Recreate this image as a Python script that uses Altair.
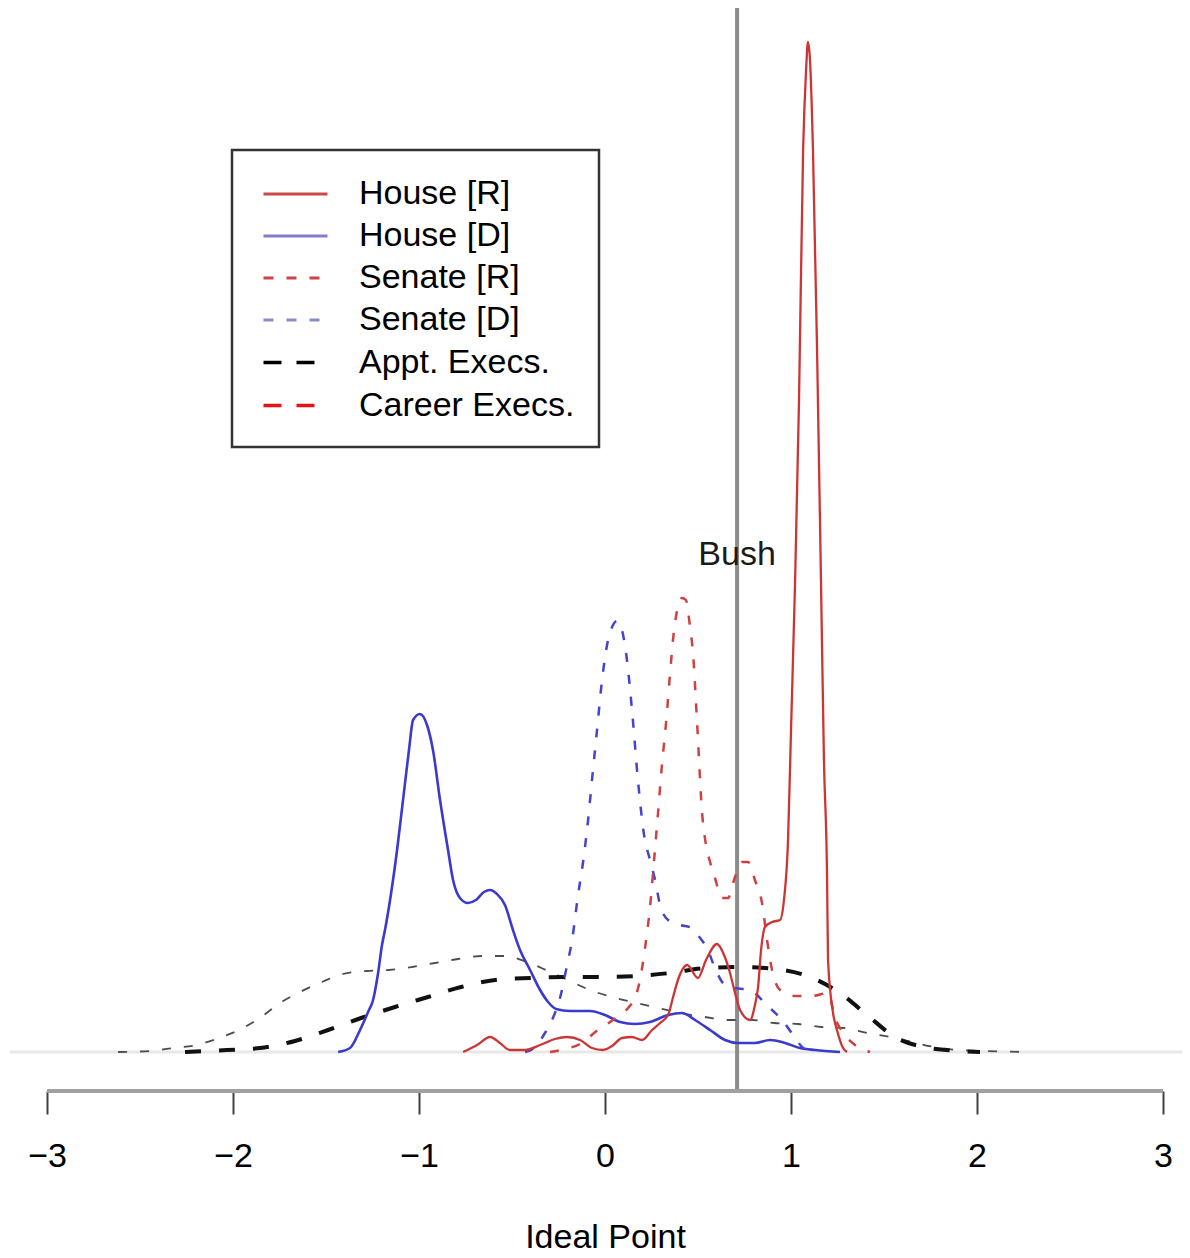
import altair as alt
import pandas as pd

FONT = "Liberation Sans"

# ---------------- data ----------------
x_ticks = [-3, -2, -1, 0, 1, 2, 3]
x_title = "Ideal Point"
bush_x = 0.71
bush_label = "Bush"
bush_label_y = 2.485

house_r_x = [-0.763, -0.688, -0.618, -0.565, -0.511, -0.430, -0.349, -0.269, -0.204, -0.134,
             -0.070, -0.011, 0.038, 0.091, 0.145, 0.199, 0.253, 0.296, 0.339, 0.366,
             0.392, 0.441, 0.500, 0.543, 0.602, 0.640, 0.672, 0.699, 0.726, 0.780,
             0.806, 0.823, 0.839, 0.860, 0.898, 0.941, 0.962, 0.984, 1.000, 1.022,
             1.043, 1.065, 1.081, 1.091, 1.102, 1.118, 1.140, 1.161, 1.177, 1.194,
             1.199, 1.226, 1.247, 1.280, 1.301]
house_r_y = [0.0, 0.035, 0.075, 0.045, 0.01, 0.01, 0.035, 0.065, 0.075, 0.06,
             0.02, 0.01, 0.03, 0.07, 0.075, 0.06, 0.11, 0.145, 0.185, 0.275,
             0.36, 0.435, 0.37, 0.46, 0.54, 0.485, 0.395, 0.295, 0.21, 0.16,
             0.235, 0.325, 0.51, 0.625, 0.65, 0.66, 0.76, 1.06, 1.61, 2.36,
             3.26, 4.51, 4.91, 5.05, 4.96, 4.51, 3.51, 2.36, 1.46, 0.86,
             0.46, 0.195, 0.11, 0.02, 0.0]

house_d_x = [-1.435, -1.371, -1.317, -1.274, -1.247, -1.220, -1.199, -1.183, -1.118, -1.086,
             -1.054, -1.032, -0.995, -0.957, -0.925, -0.887, -0.844, -0.817, -0.780, -0.737,
             -0.694, -0.651, -0.618, -0.581, -0.538, -0.495, -0.457, -0.403, -0.349, -0.306,
             -0.263, -0.188, -0.081, 0.000, 0.081, 0.161, 0.242, 0.339, 0.414, 0.484,
             0.565, 0.645, 0.715, 0.806, 0.887, 0.968, 1.048, 1.129, 1.263]
house_d_y = [0.0, 0.02, 0.11, 0.20, 0.26, 0.395, 0.535, 0.61, 1.01, 1.26,
             1.51, 1.66, 1.69, 1.635, 1.51, 1.26, 1.01, 0.86, 0.77, 0.745,
             0.76, 0.80, 0.81, 0.79, 0.735, 0.61, 0.51, 0.41, 0.31, 0.25,
             0.215, 0.205, 0.205, 0.185, 0.15, 0.14, 0.15, 0.185, 0.195, 0.16,
             0.11, 0.06, 0.045, 0.045, 0.06, 0.045, 0.02, 0.01, 0.0]

senate_r_x = [-0.296, -0.215, -0.134, -0.038, 0.027, 0.070, 0.124, 0.167, 0.188, 0.215,
              0.242, 0.263, 0.285, 0.306, 0.328, 0.349, 0.371, 0.392, 0.414, 0.435,
              0.457, 0.473, 0.495, 0.522, 0.543, 0.565, 0.591, 0.629, 0.661, 0.699,
              0.737, 0.769, 0.806, 0.844, 0.871, 0.898, 0.941, 1.022, 1.113, 1.199,
              1.237, 1.290, 1.344, 1.425]
senate_r_y = [0.0, 0.015, 0.04, 0.11, 0.15, 0.18, 0.22, 0.285, 0.36, 0.52,
              0.725, 0.95, 1.195, 1.435, 1.645, 1.885, 2.11, 2.225, 2.27, 2.26,
              2.125, 1.995, 1.645, 1.195, 1.035, 0.95, 0.87, 0.77, 0.77, 0.875,
              0.95, 0.95, 0.86, 0.745, 0.56, 0.41, 0.31, 0.28, 0.28, 0.295,
              0.17, 0.085, 0.035, 0.0]

senate_d_x = [-0.430, -0.376, -0.323, -0.280, -0.242, -0.204, -0.177, -0.145, -0.118, -0.091,
              -0.070, -0.043, -0.016, 0.011, 0.038, 0.065, 0.091, 0.118, 0.145, 0.177,
              0.210, 0.242, 0.269, 0.296, 0.339, 0.403, 0.468, 0.511, 0.548, 0.591,
              0.640, 0.699, 0.780, 0.844, 0.898, 0.952, 1.011, 1.065, 1.102]
senate_d_y = [0.0, 0.025, 0.095, 0.17, 0.27, 0.435, 0.56, 0.785, 0.95, 1.16,
              1.36, 1.61, 1.86, 2.035, 2.125, 2.155, 2.11, 1.96, 1.71, 1.36,
              1.085, 0.96, 0.86, 0.735, 0.66, 0.635, 0.62, 0.57, 0.52, 0.42,
              0.34, 0.32, 0.31, 0.26, 0.21, 0.16, 0.085, 0.02, 0.0]

appt_x = [-2.258, -2.151, -2.032, -1.855, -1.667, -1.489, -1.312, -1.129, -0.952, -0.774,
          -0.591, -0.403, -0.215, -0.027, 0.167, 0.349, 0.543, 0.726, 0.914, 1.102,
          1.263, 1.409, 1.559, 1.742, 1.909, 2.016]
appt_y = [0.0, 0.005, 0.01, 0.02, 0.055, 0.11, 0.17, 0.225, 0.275, 0.325,
          0.36, 0.37, 0.375, 0.375, 0.38, 0.395, 0.42, 0.425, 0.415, 0.375,
          0.295, 0.185, 0.075, 0.02, 0.005, 0.0]

career_x = [-2.618, -2.446, -2.323, -2.194, -2.075, -1.957, -1.849, -1.747, -1.640, -1.522,
            -1.409, -1.280, -1.161, -1.038, -0.914, -0.790, -0.661, -0.543, -0.419, -0.306,
            -0.188, -0.081, 0.038, 0.167, 0.285, 0.403, 0.538, 0.661, 0.790, 0.909,
            1.038, 1.161, 1.285, 1.409, 1.532, 1.651, 1.769, 1.898, 2.043, 2.285]
career_y = [0.0, 0.005, 0.02, 0.035, 0.07, 0.115, 0.175, 0.245, 0.30, 0.35,
            0.39, 0.405, 0.41, 0.425, 0.445, 0.465, 0.48, 0.48, 0.45, 0.405,
            0.355, 0.31, 0.275, 0.245, 0.22, 0.195, 0.175, 0.16, 0.16, 0.145,
            0.14, 0.125, 0.12, 0.095, 0.075, 0.05, 0.025, 0.01, 0.005, 0.0]

legend_labels = ["House [R]", "House [D]", "Senate [R]", "Senate [D]", "Appt. Execs.", "Career Execs."]

# ---------------- styles ----------------
legend_colors = ["#c94a4a", "#8080c8", "#cc4444", "#8a8acc", "#000000", "#e01515"]
legend_dashes = [[1, 0], [1, 0], [10, 13], [10, 13], [18, 15], [18, 15]]
legend_widths = [3, 3, 3, 3, 3.5, 3.5]

curves = [
    ("Career Execs.", career_x, career_y, dict(color="#4d4d4d", strokeDash=[9, 13], strokeWidth=1.8)),
    ("Appt. Execs.", appt_x, appt_y, dict(color="#111111", strokeDash=[16, 18], strokeWidth=4)),
    ("House [D]", house_d_x, house_d_y, dict(color="#3a3acd", strokeWidth=2.6)),
    ("Senate [D]", senate_d_x, senate_d_y, dict(color="#4444cc", strokeDash=[9, 13], strokeWidth=2.5)),
    ("Senate [R]", senate_r_x, senate_r_y, dict(color="#cf4040", strokeDash=[9, 13], strokeWidth=2.5)),
    ("House [R]", house_r_x, house_r_y, dict(color="#cd3535", strokeWidth=2.3)),
]

W, H = 1172, 1083
x_dom = [-3.199, 3.102]
y_dom = [-0.195, 5.22]
xscale = alt.Scale(domain=x_dom, nice=False, zero=False)
yscale = alt.Scale(domain=y_dom, nice=False, zero=False)
xaxis = alt.Axis(values=x_ticks, title=x_title, format="d", titleX=595)

rows = []
for name, xs, ys, _ in curves:
    for a, b in zip(xs, ys):
        rows.append({"series": name, "x": a, "y": b})
df = pd.DataFrame(rows)

one = alt.Chart(pd.DataFrame({"k": [0]}))

baseline = one.mark_rule(color="#e8e8e8", strokeWidth=3).encode(
    y=alt.YDatum(0, scale=yscale, axis=None)
)
bush_line = one.mark_rule(color="#8c8c8c", strokeWidth=4).encode(
    x=alt.XDatum(bush_x, scale=xscale, axis=xaxis)
)

layers = [baseline, bush_line]
for name, xs, ys, st in curves:
    layers.append(
        alt.Chart(df).transform_filter(alt.datum.series == name)
        .mark_line(interpolate="monotone", strokeCap="butt", **st)
        .encode(
            x=alt.X("x:Q", scale=xscale, axis=xaxis),
            y=alt.Y("y:Q", scale=yscale, axis=None),
        )
    )

bush_text = one.mark_text(
    text=bush_label, font=FONT, fontSize=34, color="#1a1a1a", align="center", baseline="middle"
).encode(x=alt.XDatum(bush_x, scale=xscale, axis=xaxis),
         y=alt.YDatum(bush_label_y, scale=yscale, axis=None))

axis_line = one.mark_rule(color="#a0a0a0", strokeWidth=4).encode(
    x=alt.XDatum(x_ticks[0], scale=xscale, axis=xaxis),
    x2=alt.datum(x_ticks[-1]),
    y=alt.YDatum(y_dom[0], scale=yscale, axis=None),
)

leg = alt.Legend(
    title=None, orient="none", legendX=222, legendY=142,
    symbolType="M-1.73,0H1.73", symbolSize=1369, symbolOffset=19,
    labelOffset=43, labelFontSize=34, labelFont=FONT, labelColor="black",
    labelLimit=600, padding=24, rowPadding=5,
    fillColor="white", strokeColor="#333333",
)
legend_df = pd.DataFrame({"label": legend_labels, "x": [None] * 6, "y": [None] * 6})
legend_layer = alt.Chart(legend_df).mark_line().encode(
    x=alt.X("x:Q", scale=xscale, axis=xaxis),
    y=alt.Y("y:Q", scale=yscale, axis=None),
    color=alt.Color("label:N", scale=alt.Scale(domain=legend_labels, range=legend_colors), legend=leg),
    strokeDash=alt.StrokeDash("label:N", scale=alt.Scale(domain=legend_labels, range=legend_dashes), legend=leg),
    strokeWidth=alt.StrokeWidth("label:N", scale=alt.Scale(type="ordinal", domain=legend_labels, range=legend_widths), legend=leg),
)

layers += [bush_text, axis_line, legend_layer]

chart = (
    alt.layer(*layers)
    .properties(width=W, height=H,
                autosize=alt.AutoSizeParams(type="none"),
                padding={"left": 2, "top": 0, "right": 0, "bottom": 166})
    .configure_view(stroke=None)
    .configure_axisX(
        domain=False, grid=False, tickColor="#404040", tickWidth=2, tickSize=23,
        labelFont=FONT, labelFontSize=34, labelColor="black", labelPadding=25,
        titleFont=FONT, titleFontSize=34, titleFontWeight="normal", titleColor="black",
        titlePadding=47,
    )
    .configure_legend(strokeWidth=2.5)
)

chart.save("out.html", embed_options={"renderer": "svg", "actions": False})
